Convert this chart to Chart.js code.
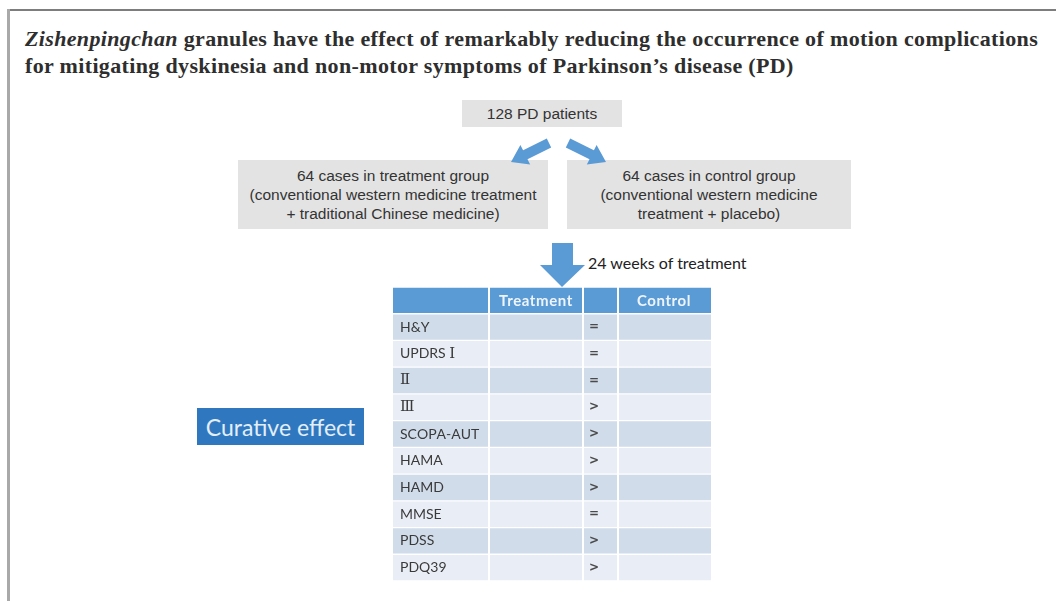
<!DOCTYPE html>
<html>
<head>
<meta charset="utf-8">
<script src="https://cdn.jsdelivr.net/npm/chart.js@4.4.0/dist/chart.umd.min.js"></script>
<style>
  html, body { margin: 0; padding: 0; background: #fff; }
  body { width: 1056px; height: 601px; position: relative; overflow: hidden; }
  .frameTop { position: absolute; left: 7px; top: 9px; width: 1049px; height: 2px; background: #7d7d7d; }
  .frameLeft { position: absolute; left: 7px; top: 9px; width: 3px; height: 592px; background: #a9a9a9; }
  .title { position: absolute; left: 25px; top: 25px; width: 1030px; font-family: "Liberation Serif", "DejaVu Serif", serif;
           font-weight: bold; font-size: 22px; letter-spacing: 0.35px; line-height: 27px; color: #2e2e2e; white-space: nowrap; }
  .box { position: absolute; background: #e3e3e3; color: #333; font-family: "Liberation Sans", Arial, sans-serif;
         font-size: 15.5px; text-align: center; display: flex; align-items: center; justify-content: center; line-height: 19px; }
  .weeks { position: absolute; left: 588px; top: 253px; font-family: Lato, "Open Sans", sans-serif; font-size: 16px; color: #222; }
  .curative { position: absolute; left: 197px; top: 408px; width: 167px; height: 37px; background: #2f78c0; color: #e3eef9;
              font-family: Lato, "Open Sans", sans-serif; font-size: 23px; display: flex; align-items: center; justify-content: center; }
  #tbl { position: absolute; left: 393px; top: 287px; }
  svg { position: absolute; left: 0; top: 0; }
</style>
</head>
<body>
<div class="frameTop"></div>
<div class="frameLeft"></div>
<div class="title"><i>Zishenpingchan</i> granules have the effect of remarkably reducing the occurrence of motion complications<br>for mitigating dyskinesia and non-motor symptoms of Parkinson’s disease (PD)</div>

<div class="box" style="left:462px;top:100px;width:160px;height:27px;">128 PD patients</div>
<div class="box" style="left:238px;top:160px;width:310px;height:69px;">64 cases in treatment group<br>(conventional western medicine treatment<br>+ traditional Chinese medicine)</div>
<div class="box" style="left:567px;top:160px;width:284px;height:69px;">64 cases in control group<br>(conventional western medicine<br>treatment + placebo)</div>

<div class="weeks">24 weeks of treatment</div>
<div class="curative">Curative effect</div>

<canvas id="tbl" width="318" height="294"></canvas>

<svg width="1056" height="601" style="pointer-events:none">
  <polygon fill="#5b9bd5" points="546.8,138.5 523.1,150.3 520.4,145.0 511,162 530.2,164.6 527.5,159.3 551.2,147.5"/>
  <polygon fill="#5b9bd5" points="570.2,138.5 593.9,150.3 596.6,145.0 606,162 586.8,164.6 589.5,159.3 565.8,147.5"/>
  <polygon fill="#5b9bd5" points="552,243 573,243 573,265 585,265 562,287 540,265 552,265"/>
</svg>

<script>
// ---- data ----
const columnHeaders = ['', 'Treatment', '', 'Control'];
const measures = ['H&Y', 'UPDRS Ⅰ', 'Ⅱ', 'Ⅲ', 'SCOPA-AUT', 'HAMA', 'HAMD', 'MMSE', 'PDSS', 'PDQ39'];
const comparison = ['=', '=', '=', '>', '>', '>', '>', '=', '>', '>'];

// ---- layout / style ----
const colEdges = [0, 97, 191, 226, 318];
const colGap = 2;
const headerBlue = '#5b9bd5';
const rowDark = '#d0dcea';
const rowLight = '#e9eef6';

const rowLabels = [''].concat(measures);

const datasets = columnHeaders.map((h, c) => ({
  label: h || ('col' + c),
  data: rowLabels.map(() => [colEdges[c], colEdges[c + 1] - (c < columnHeaders.length - 1 ? colGap : 0)]),
  backgroundColor: rowLabels.map((_, i) => i === 0 ? headerBlue : (i % 2 === 1 ? rowDark : rowLight)),
  borderWidth: 0,
  grouped: false,
  categoryPercentage: 1,
  barPercentage: 0.95
}));

const sansFont = '14px Lato, "Open Sans", sans-serif';
const romanFont = '15px "DejaVu Serif", "Noto Sans CJK SC", serif';
function drawMixed(ctx, text, x, y) {
  // roman numerals (U+2160..U+217F) drawn in a serif face, the rest in sans
  for (const ch of text) {
    const code = ch.codePointAt(0);
    ctx.font = (code >= 0x2160 && code <= 0x217F) ? romanFont : sansFont;
    ctx.fillText(ch, x, y);
    x += ctx.measureText(ch).width;
  }
}

const textPlugin = {
  id: 'cellText',
  afterDatasetsDraw(chart) {
    const ctx = chart.ctx;
    const xs = chart.scales.x, ys = chart.scales.y;
    ctx.save();
    ctx.textBaseline = 'middle';
    // header
    ctx.fillStyle = '#eef4fb';
    ctx.font = 'bold 15px Lato, "Open Sans", sans-serif';
    if ('letterSpacing' in ctx) ctx.letterSpacing = '0.6px';
    ctx.textAlign = 'center';
    columnHeaders.forEach((h, c) => {
      if (!h) return;
      const cx = (xs.getPixelForValue(colEdges[c]) + xs.getPixelForValue(colEdges[c + 1] - colGap)) / 2;
      ctx.fillText(h, cx, ys.getPixelForValue(0) + 1);
    });
    if ('letterSpacing' in ctx) ctx.letterSpacing = '0px';
    // rows
    ctx.textAlign = 'left';
    ctx.fillStyle = '#3a3a3a';
    measures.forEach((m, i) => {
      drawMixed(ctx, m, xs.getPixelForValue(colEdges[0]) + 7, ys.getPixelForValue(i + 1));
    });
    ctx.font = 'bold 12px "DejaVu Sans", sans-serif';
    ctx.fillStyle = '#4a4a4a';
    comparison.forEach((s, i) => {
      ctx.fillText(s, xs.getPixelForValue(colEdges[2]) + 5, ys.getPixelForValue(i + 1));
    });
    ctx.restore();
  }
};

new Chart(document.getElementById('tbl'), {
  type: 'bar',
  data: { labels: rowLabels, datasets },
  options: {
    indexAxis: 'y',
    responsive: false,
    animation: false,
    layout: { padding: 0 },
    plugins: { legend: { display: false }, tooltip: { enabled: false } },
    scales: {
      x: { type: 'linear', min: 0, max: 318, display: false },
      y: { type: 'category', display: false }
    }
  },
  plugins: [textPlugin]
});
</script>
</body>
</html>
